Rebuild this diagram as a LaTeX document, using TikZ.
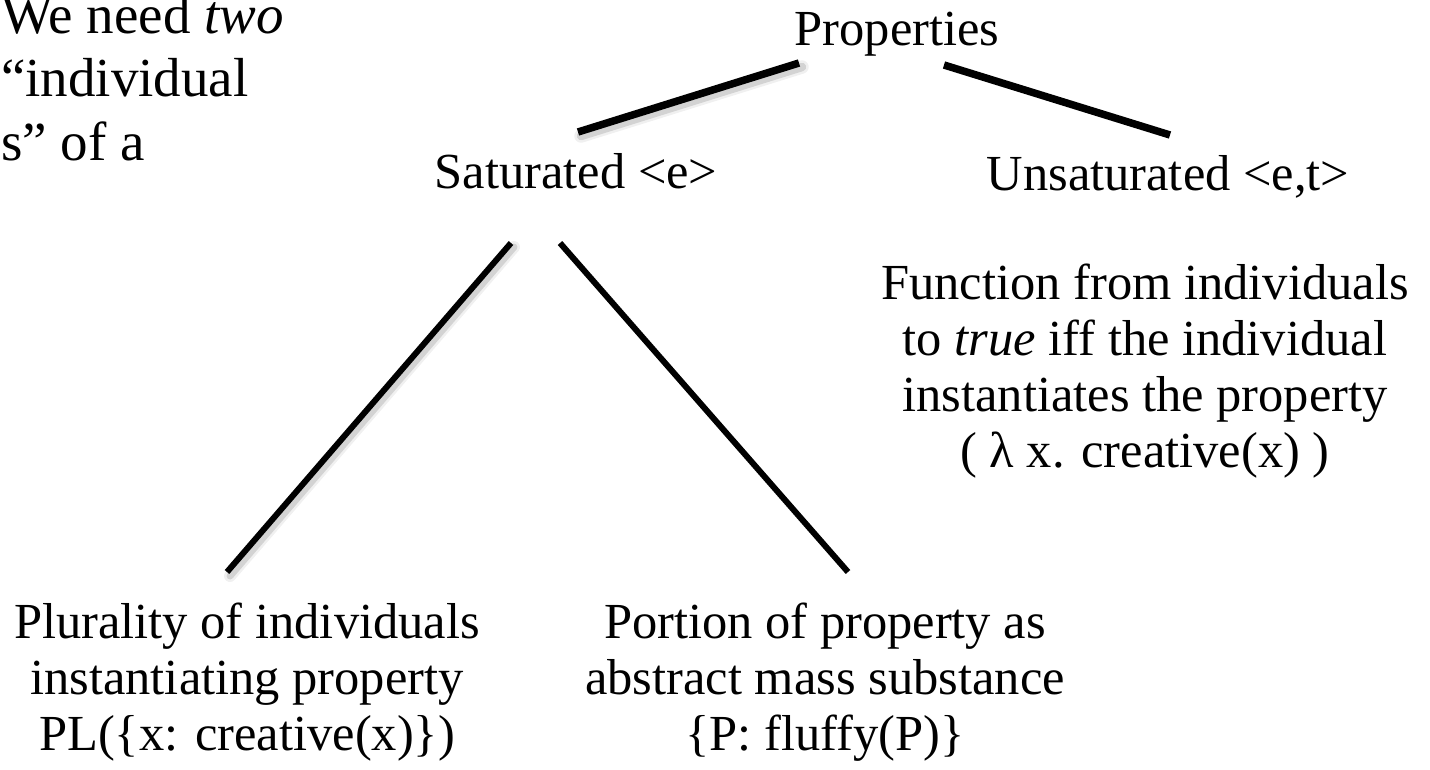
\documentclass[tikz,border=0pt]{standalone}
\usepackage{fontspec}
\setmainfont{Liberation Serif}

\begin{document}
\begin{tikzpicture}[x=1pt, y=-1pt,
    txt/.style={inner sep=0pt, anchor=base, align=center, font=\fontsize{50.5}{55.7}\selectfont},
    branch/.style={line width=#1}, branch/.default=6pt,
    shadowline/.style={line width=#1+6pt, black, opacity=0.06, line cap=round, transform canvas={xshift=3pt, yshift=-4pt},
        postaction={draw, line width=#1+1pt, black, opacity=0.12}}, shadowline/.default=6pt]
    \useasboundingbox (0, 0) rectangle (1430, 769);

    \node [txt, anchor=base west, align=left, font=\fontsize{55}{63.5}\selectfont] (note) at (1, 160) {We need \textit{two}\\“individual\\s” of a};

    \node [txt] (prop) at (897, 45) {Properties};
    \node [txt] (sat) at (576, 188) {Saturated <e>};
    \node [txt] (unsat) at (1168, 190) {Unsaturated <e,t>};
    \node [txt] (func) at (1145, 467) {Function from individuals\\to \textit{true} iff the individual\\instantiates the property\\( λ x. creative(x) )};
    \node [txt] (plur) at (247, 750) {Plurality of individuals\\instantiating property\\PL(\{x: creative(x)\})};
    \node [txt] (port) at (825, 750) {Portion of property as\\abstract mass substance\\\{P: fluffy(P)\}};

    \draw [shadowline=7.5pt] ([shift={(-98, 18)}]prop.base) -- ([shift={(2, -56)}]sat.base);
    \draw [branch=7.5pt] ([shift={(-98, 18)}]prop.base) -- ([shift={(2, -56)}]sat.base);
    \draw [branch=7.5pt] ([shift={(47, 20)}]prop.base) -- ([shift={(2, -55)}]unsat.base);

    \draw [shadowline] ([shift={(-65, 55)}]sat.base) -- ([shift={(-20, -178)}]plur.base);
    \draw [branch] ([shift={(-65, 55)}]sat.base) -- ([shift={(-20, -178)}]plur.base);
    \draw [branch] ([shift={(-16, 55)}]sat.base) -- ([shift={(23, -178)}]port.base);
\end{tikzpicture}
\end{document}
